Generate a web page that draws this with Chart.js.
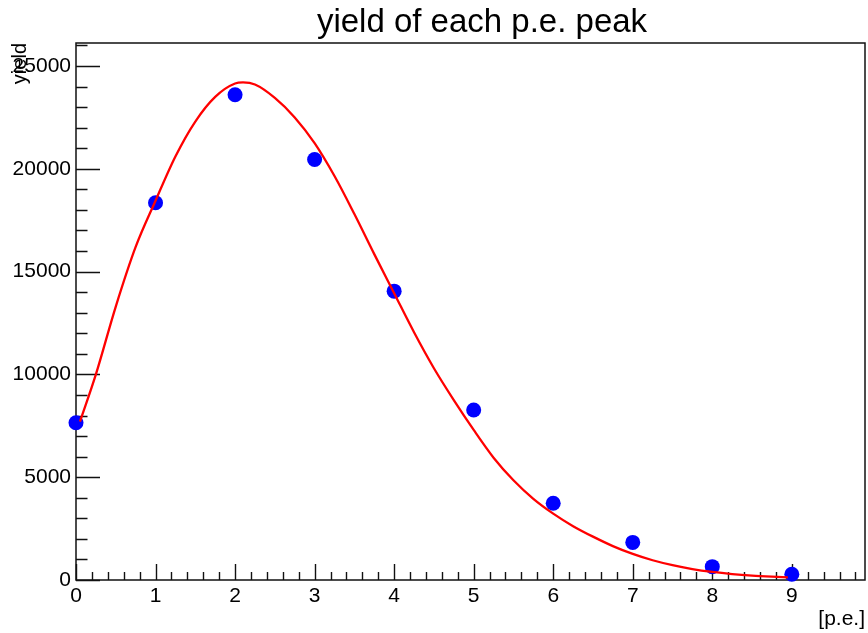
<!DOCTYPE html>
<html>
<head>
<meta charset="utf-8">
<script src="https://cdn.jsdelivr.net/npm/chart.js@4/dist/chart.umd.min.js"></script>
<style>
  html, body { margin: 0; padding: 0; background: #fff; }
  #wrap { width: 868px; height: 633px; }
</style>
</head>
<body>
<div id="wrap"><canvas id="c" width="868" height="633"></canvas></div>
<script>
// Measured yield per photo-electron peak
const peNumbers  = [0, 1, 2, 3, 4, 5, 6, 7, 8, 9];
const peakYields = [7650, 18350, 23600, 20450, 14050, 8270, 3730, 1830, 650, 280];

// Fitted curve, sampled along its length
const fitX = [0.05, 0.25, 0.50, 0.75, 1.00, 1.25, 1.50, 1.75, 2.00, 2.10, 2.25, 2.50, 2.75,
              3.00, 3.25, 3.50, 3.75, 4.00, 4.25, 4.50, 4.75, 5.00, 5.25, 5.50, 5.75, 6.00,
              6.25, 6.50, 6.75, 7.00, 7.25, 7.50, 7.75, 8.00, 8.25, 8.50, 8.75, 8.95];
const fitY = [7700, 10000, 13300, 16200, 18450, 20600, 22300, 23500, 24150, 24200, 24100, 23450, 22500,
              21250, 19650, 17800, 15850, 13950, 12050, 10300, 8750, 7300, 5950, 4850, 3950, 3230,
              2620, 2110, 1650, 1270, 960, 720, 530, 390, 285, 210, 160, 130];

// Axis ticks and labels
const xTickValues = [0, 1, 2, 3, 4, 5, 6, 7, 8, 9];
const xTickLabels = ['0', '1', '2', '3', '4', '5', '6', '7', '8', '9'];
const yTickValues = [0, 5000, 10000, 15000, 20000, 25000];
const yTickLabels = ['0', '5000', '10000', '15000', '20000', '25000'];

const chartTitle = 'yield of each p.e. peak';
const xTitle = '[p.e.]';
const yTitle = 'yield';

const FONT = "'Liberation Sans', Arial, Helvetica, sans-serif";

// Frame with inward-pointing major/minor ticks
const framePlugin = {
  id: 'frame',
  beforeDatasetsDraw(chart) {
    const { ctx, chartArea: a, scales: { x, y } } = chart;
    ctx.save();
    ctx.strokeStyle = '#111';
    ctx.lineWidth = 1.5;
    ctx.strokeRect(a.left, a.top, a.right - a.left, a.bottom - a.top);
    ctx.lineWidth = 1.4;
    ctx.beginPath();
    for (let i = 0; i * 0.2 <= x.max + 1e-9; i++) {
      const px = Math.round(x.getPixelForValue(i * 0.2)) + 0.5;
      const len = i % 5 === 0 ? 16 : 8;
      ctx.moveTo(px, a.bottom);
      ctx.lineTo(px, a.bottom - len);
    }
    for (let v = 0; v <= y.max; v += 1000) {
      const py = Math.round(y.getPixelForValue(v)) + 0.5;
      const len = v % 5000 === 0 ? 24 : 11.5;
      ctx.moveTo(a.left, py);
      ctx.lineTo(a.left + len, py);
    }
    ctx.stroke();
    ctx.restore();
  }
};

// Main title
const titlePlugin = {
  id: 'rootTitle',
  afterDraw(chart) {
    const { ctx } = chart;
    ctx.save();
    ctx.fillStyle = '#000';
    ctx.font = '33px ' + FONT;
    ctx.textAlign = 'center';
    ctx.textBaseline = 'alphabetic';
    ctx.fillText(chartTitle, 482, 32);
    ctx.restore();
  }
};

new Chart(document.getElementById('c'), {
  type: 'scatter',
  data: {
    datasets: [
      {
        label: 'fit',
        data: fitX.map((v, i) => ({ x: v, y: fitY[i] })),
        showLine: true,
        borderColor: '#ff0000',
        borderWidth: 2.3,
        pointRadius: 0,
        cubicInterpolationMode: 'monotone',
        fill: false,
        order: 0,
        clip: false
      },
      {
        label: 'yield',
        data: peNumbers.map((v, i) => ({ x: v, y: peakYields[i] })),
        showLine: false,
        pointRadius: 7.5,
        pointHoverRadius: 7.5,
        pointBackgroundColor: '#0000ff',
        pointBorderColor: '#0000ff',
        pointBorderWidth: 0,
        order: 1,
        clip: false
      }
    ]
  },
  options: {
    responsive: false,
    animation: false,
    devicePixelRatio: 1,
    layout: { autoPadding: false, padding: { top: 43, right: 3, left: 0, bottom: 0 } },
    plugins: {
      legend: { display: false },
      tooltip: { enabled: false },
      title: { display: false }
    },
    scales: {
      x: {
        type: 'linear',
        min: 0,
        max: 9.92,
        grid: { display: false, drawTicks: false },
        border: { display: false },
        afterBuildTicks: (s) => { s.ticks = xTickValues.map(v => ({ value: v })); },
        afterFit: (s) => { s.height = 53; s.paddingLeft = 0; s.paddingRight = 0; },
        ticks: {
          autoSkip: false,
          maxRotation: 0,
          padding: 4,
          color: '#000',
          font: { family: FONT, size: 21 },
          callback: (val, i) => xTickLabels[i]
        },
        title: {
          display: true,
          text: xTitle,
          align: 'end',
          color: '#000',
          font: { family: FONT, size: 21 },
          padding: { top: 0, bottom: 1 }
        }
      },
      y: {
        type: 'linear',
        min: 0,
        max: 26120,
        grid: { display: false, drawTicks: false },
        border: { display: false },
        afterBuildTicks: (s) => { s.ticks = yTickValues.map(v => ({ value: v })); },
        afterFit: (s) => { s.width = 76; s.paddingTop = 0; s.paddingBottom = 0; },
        ticks: {
          autoSkip: false,
          padding: 5,
          color: '#000',
          font: { family: FONT, size: 21 },
          callback: (val, i) => yTickLabels[i]
        },
        title: {
          display: true,
          text: yTitle,
          align: 'end',
          color: '#000',
          font: { family: FONT, size: 20 },
          padding: { top: 8, bottom: 0 }
        }
      }
    }
  },
  plugins: [framePlugin, titlePlugin]
});
</script>
</body>
</html>
